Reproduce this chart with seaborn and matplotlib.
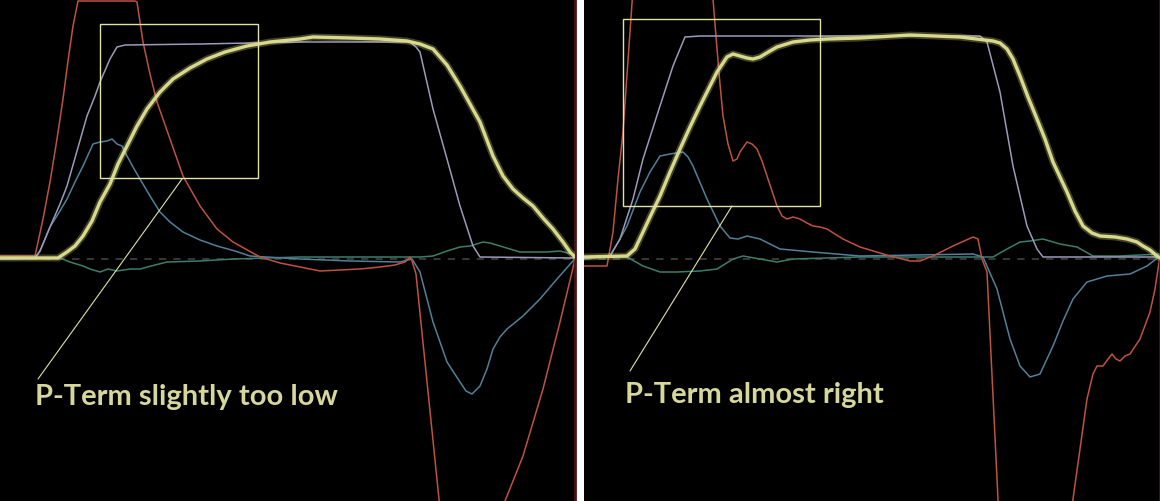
import pandas as pd
import matplotlib
matplotlib.use("Agg")
import matplotlib.pyplot as plt
import matplotlib.patches as patches
import seaborn as sns

# step response traces
# left panel: P-term slightly too low
left_gyro_t = [0, 58, 67, 75, 83, 92, 100, 110, 118, 127, 137, 147, 160, 173, 190, 207, 225, 247, 270, 300,
               313, 350, 380, 407, 420, 433, 447, 460, 470, 480, 493, 503, 513, 523, 533, 543, 553, 563, 570, 575]
left_gyro = [1, 1, 7, 13, 23, 38, 57, 75, 95, 113, 133, 150, 167, 180, 191, 200, 207, 213, 217, 220,
             222, 221, 220, 218, 215, 210, 194, 173, 155, 137, 103, 83, 70, 61, 53, 41, 30, 17, 7, 2]

left_setp_t = [0, 35, 40, 50, 60, 67, 77, 87, 95, 100, 110, 117, 125, 200, 300, 410, 416, 420, 433, 447, 460, 473, 480, 575]
left_setp = [1, 1, 8, 32, 55, 73, 108, 143, 163, 177, 200, 212, 214, 215, 217, 217, 212, 207, 150, 100, 53, 13, 2, 1]

left_p_t = [0, 35, 43, 50, 57, 63, 68, 73, 78, 135, 137, 143, 150, 157, 170, 183, 200, 217, 233, 260, 280, 300,
            320, 340, 360, 380, 395, 405, 410, 412, 416, 440, 445, 495, 505, 523, 543, 560, 572, 575]
left_p = [3, 3, 40, 77, 120, 160, 198, 233, 258, 258, 257, 217, 185, 157, 120, 83, 53, 30, 17, 2, -4, -8,
          -12, -11, -10, -8, -6, -3, 2, -2, -15, -250, -280, -280, -242, -197, -130, -63, -13, 0]

left_d_t = [0, 35, 40, 50, 60, 67, 75, 83, 93, 100, 107, 112, 117, 122, 127, 133, 140, 150, 160, 170, 183, 200,
            217, 235, 250, 300, 350, 400, 412, 420, 433, 447, 460, 466, 472, 480, 487, 493, 500, 507, 523, 540,
            557, 572, 575]
left_d = [0, 1, 8, 32, 48, 60, 77, 93, 115, 117, 118, 120, 115, 113, 103, 92, 80, 63, 47, 37, 27, 19,
          13, 8, 3, 0, -2, -3, 0, -13, -63, -103, -123, -132, -135, -127, -110, -90, -78, -70, -57, -40,
          -20, -3, 0]

left_i_t = [0, 60, 70, 83, 90, 100, 108, 117, 130, 140, 155, 167, 200, 233, 300, 350, 420, 433, 447, 460,
            470, 483, 490, 500, 510, 520, 547, 560, 575]
left_i = [0, 1, -3, -7, -10, -13, -10, -12, -10, -10, -6, -3, -2, 0, 2, 2, 2, 3, 8, 12,
          13, 17, 16, 13, 10, 7, 7, 8, 4]

# right panel: P-term almost right
right_gyro_t = [0, 43, 51, 59, 66, 76, 86, 96, 106, 116, 126, 133, 143, 149, 156, 163, 169, 176, 186, 193,
                209, 226, 243, 276, 326, 376, 409, 416, 423, 429, 436, 444, 453, 461, 469, 483, 491, 499,
                508, 516, 531, 543, 553, 559, 566, 573, 576]
right_gyro = [2, 3, 10, 27, 42, 63, 87, 110, 132, 153, 173, 187, 202, 205, 203, 201, 200, 202, 208, 212,
              217, 219, 220, 221, 224, 222, 218, 216, 210, 200, 183, 162, 140, 120, 97, 67, 48, 33,
              26, 23, 22, 20, 17, 13, 9, 3, 1]

right_setp_t = [0, 26, 36, 49, 59, 76, 89, 96, 101, 116, 396, 403, 416, 429, 443, 453, 459, 576]
right_setp = [2, 3, 20, 60, 100, 153, 193, 210, 222, 223, 223, 217, 167, 93, 33, 10, 2, 2]

right_p_t = [0, 23, 29, 34, 39, 46, 49, 56, 121, 129, 133, 136, 139, 144, 149, 153, 156, 163, 168, 173, 178,
             183, 193, 198, 203, 209, 216, 223, 229, 236, 243, 259, 276, 306, 326, 336, 349, 369, 389, 394,
             396, 398, 403, 414, 416, 486, 489, 496, 503, 509, 513, 519, 524, 528, 532, 536, 541, 546, 556,
             566, 571, 576]
right_p = [-7, -7, 27, 80, 127, 227, 270, 320, 320, 260, 210, 175, 143, 115, 98, 100, 107, 117, 115, 110, 98,
           83, 53, 43, 40, 42, 40, 36, 33, 32, 30, 20, 12, 3, -2, -2, 3, 13, 22, 20,
           10, 0, -13, -240, -280, -280, -240, -190, -140, -115, -107, -107, -100, -95, -100, -102, -97, -95, -80,
           -53, -30, 3]

right_d_t = [0, 26, 36, 43, 56, 66, 76, 86, 99, 104, 109, 123, 136, 146, 154, 163, 176, 196, 229, 276, 389,
             399, 413, 426, 436, 446, 456, 469, 479, 489, 503, 523, 546, 563, 576]
right_d = [0, 3, 20, 33, 67, 87, 103, 105, 107, 102, 93, 60, 33, 21, 20, 23, 20, 10, 7, 3, 5,
           2, -30, -80, -107, -118, -115, -87, -62, -40, -23, -17, -15, -7, 3]

right_i_t = [0, 43, 59, 76, 93, 116, 133, 149, 159, 176, 193, 209, 276, 409, 423, 436, 446, 459, 476, 493,
             509, 536, 576]
right_i = [2, 2, -7, -13, -13, -12, -10, 0, 3, 0, -3, 0, 2, 2, 10, 17, 18, 20, 15, 12,
           3, 3, 5]

labels = ["P-Term slightly too low", "P-Term almost right"]

colors = {"I": "#3d7d6c", "D": "#52809a", "P": "#bf5240", "setpoint": "#9c9abb", "gyro": "#d9d98c"}
widths = {"I": 1.1, "D": 1.1, "P": 1.1, "setpoint": 1.1, "gyro": 2.4}


def make_frame(series):
    frames = []
    for name, (t, v) in series.items():
        frames.append(pd.DataFrame({"time": t, "value": v, "trace": name}))
    return pd.concat(frames, ignore_index=True)


left_df = make_frame({"I": (left_i_t, left_i), "D": (left_d_t, left_d), "P": (left_p_t, left_p),
                      "setpoint": (left_setp_t, left_setp), "gyro": (left_gyro_t, left_gyro)})
right_df = make_frame({"I": (right_i_t, right_i), "D": (right_d_t, right_d), "P": (right_p_t, right_p),
                       "setpoint": (right_setp_t, right_setp), "gyro": (right_gyro_t, right_gyro)})

sns.set_style("dark")
text_color = "#d7d79b"

fig = plt.figure(figsize=(11.6, 5.02), dpi=100, facecolor="white")
ax_left = fig.add_axes([0, 0, 575 / 1160, 1])
ax_right = fig.add_axes([584 / 1160, 0, 576 / 1160, 1])

# box = (x0, y0, w, h), leader line = (x_from, y_from, x_to, y_to), text position
panels = [
    (ax_left, left_df, 575, (100, 81, 158, 154), (182, 80, 38, -120), (35, -145), labels[0]),
    (ax_right, right_df, 576, (39, 53, 197, 187), (148, 53, 46, -112), (41, -143), labels[1]),
]

for ax, df, width, box, leader, txt_pos, label in panels:
    ax.set_facecolor("black")
    ax.axhline(0, color="#3c3c3c", lw=1.3, ls=(0, (4, 4)), zorder=1)
    for name in ["I", "D", "P", "setpoint", "gyro"]:
        sub = df[df["trace"] == name]
        if name == "gyro":
            # soft glow under the gyro trace
            sns.lineplot(data=sub, x="time", y="value", ax=ax, color=colors[name], lw=5,
                         alpha=0.3, estimator=None, sort=False, zorder=3)
        sns.lineplot(data=sub, x="time", y="value", ax=ax, color=colors[name], lw=widths[name],
                     estimator=None, sort=False, zorder=4 if name == "gyro" else 2)
    ax.set_xlim(0, width)
    ax.set_ylim(-242, 260)
    ax.set_xticks([])
    ax.set_yticks([])
    ax.set_xlabel("")
    ax.set_ylabel("")
    for side in ["top", "left", "bottom"]:
        ax.spines[side].set_visible(False)
    ax.spines["right"].set_visible(True)
    ax.spines["right"].set_color("#4a1212")
    ax.spines["right"].set_linewidth(2)

    ax.add_patch(patches.Rectangle((box[0], box[1]), box[2], box[3], fill=False,
                                   edgecolor="#e2e2a6", lw=1.0, zorder=5))
    ax.plot([leader[0], leader[2]], [leader[1], leader[3]], color="#e2e2a6", lw=0.8, zorder=5)
    ax.text(txt_pos[0], txt_pos[1], label, color=text_color, fontsize=21, fontweight="bold",
            family=["Lato", "DejaVu Sans"], va="baseline", ha="left", zorder=6)

fig.savefig("out.png", dpi=100, facecolor="white")
